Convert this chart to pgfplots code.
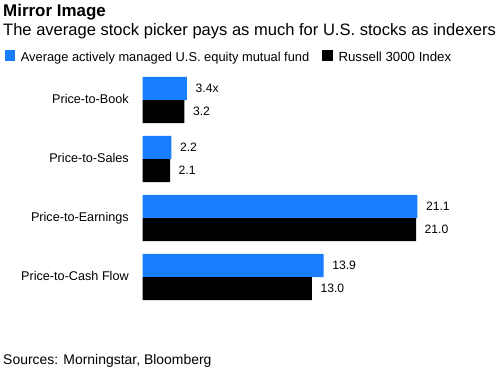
\documentclass[border=0pt]{standalone}
\usepackage{pgfplots}
\pgfplotsset{compat=1.18}
\usepackage{fontspec}
\setmainfont{Liberation Sans}
\definecolor{bbblue}{RGB}{25,125,255}
\begin{document}
\begin{tikzpicture}
\path[use as bounding box] (0,0) rectangle (500bp,-367bp);
\node[anchor=base west, inner sep=0pt, font=\fontsize{17}{20}\selectfont\bfseries] at (3bp,-16bp) {Mirror Image};
\node[anchor=base west, inner sep=0pt, font=\fontsize{16.6}{19}\selectfont] at (3bp,-35bp) {The average stock picker pays as much for U.S. stocks as indexers};
\fill[bbblue] (5bp,-50bp) rectangle (15bp,-61bp);
\node[anchor=base west, inner sep=0pt, font=\fontsize{12.9}{15}\selectfont] at (20.7bp,-61.5bp) {Average actively managed U.S. equity mutual fund};
\fill[black] (321.7bp,-50bp) rectangle (332.7bp,-61bp);
\node[anchor=base west, inner sep=0pt, font=\fontsize{13.3}{15}\selectfont] at (338.3bp,-61.5bp) {Russell 3000 Index};
\node[anchor=base west, inner sep=0pt, font=\fontsize{14}{16}\selectfont] at (3bp,-364bp) {Sources: Morningstar, Bloomberg};
\begin{axis}[
  at={(142.7bp,-70.5bp)}, anchor=north west,
  scale only axis, width=274.6bp, height=236bp,
  xmin=0, xmax=21.1, ymin=-0.5, ymax=3.5, y dir=reverse,
  xbar, bar width=0.39,
  axis line style={draw=none}, tick style={draw=none},
  xtick=\empty, ytick={0,1,2,3},
  yticklabels={Price-to-Book,Price-to-Sales,Price-to-Earnings,Price-to-Cash Flow},
  yticklabel style={font=\fontsize{12.7}{15}\selectfont, anchor=east, inner sep=0pt, text height=0.72em, text depth=0pt, xshift=-9.5bp},
  clip=false,
  point meta=explicit symbolic,
  nodes near coords,
  nodes near coords style={anchor=west, inner sep=0pt, font=\fontsize{12.2}{14}\selectfont, text height=0.72em, text depth=0pt, xshift=8.5bp},
]
\addplot[fill=bbblue, draw=none, bar shift=-0.195] coordinates {(3.4,0) [3.4x] (2.2,1) [2.2] (21.1,2) [21.1] (13.9,3) [13.9]};
\addplot[fill=black, draw=none, bar shift=0.195] coordinates {(3.2,0) [3.2] (2.1,1) [2.1] (21.0,2) [21.0] (13.0,3) [13.0]};
\end{axis}
\end{tikzpicture}
\end{document}
